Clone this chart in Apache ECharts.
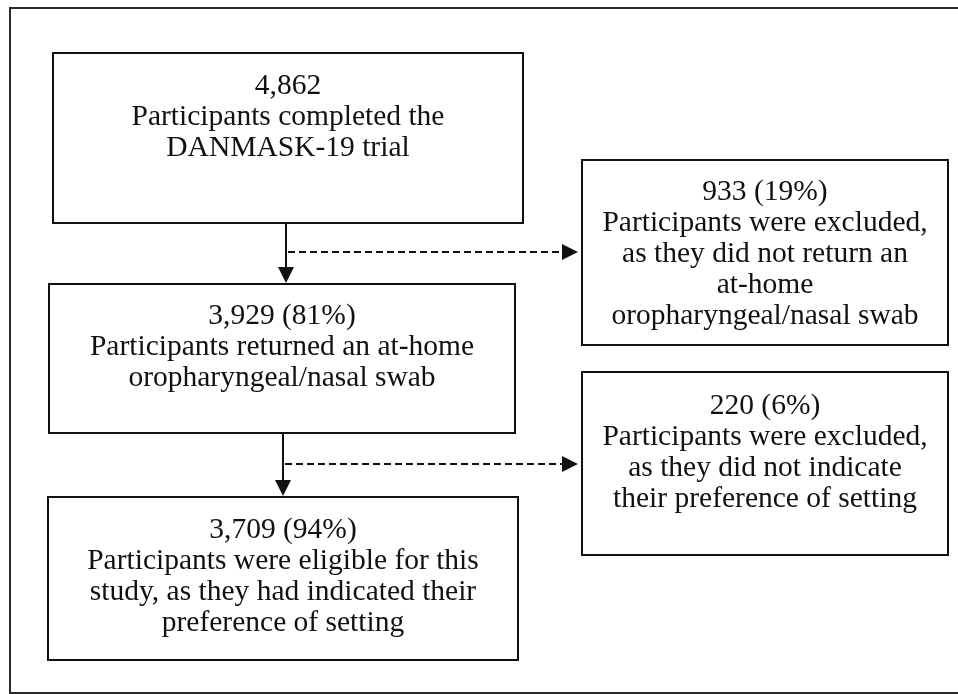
<!DOCTYPE html>
<html>
<head>
<meta charset="utf-8">
<script src="https://cdn.jsdelivr.net/npm/echarts@6/dist/echarts.min.js"></script>
<style>html,body{margin:0;padding:0;background:#fff}#c{width:958px;height:694px}</style>
</head>
<body>
<div id="c"></div>
<script>
// ---- Data (flowchart texts) ----
const boxTrial = ["4,862", "Participants completed the", "DANMASK-19 trial"];
const boxReturned = ["3,929 (81%)", "Participants returned an at-home", "oropharyngeal/nasal swab"];
const boxEligible = ["3,709 (94%)", "Participants were eligible for this", "study, as they had indicated their", "preference of setting"];
const boxExcluded1 = ["933 (19%)", "Participants were excluded,", "as they did not return an", "at-home", "oropharyngeal/nasal swab"];
const boxExcluded2 = ["220 (6%)", "Participants were excluded,", "as they did not indicate", "their preference of setting"];

// ---- Layout ----
const FONT = "'Liberation Serif', 'DejaVu Serif', serif";
const FS = 29.5, LH = 31;
const layout = [
  {lines: boxTrial,     x: 53,  y: 53,  w: 470, h: 170, ty: 18},
  {lines: boxReturned,  x: 49,  y: 284, w: 466, h: 149, ty: 17},
  {lines: boxEligible,  x: 48,  y: 497, w: 470, h: 163, ty: 18},
  {lines: boxExcluded1, x: 582, y: 160, w: 366, h: 185, ty: 17},
  {lines: boxExcluded2, x: 582, y: 372, w: 366, h: 183, ty: 19}
];

const els = [];
// outer frame
els.push({type: 'rect', shape: {x: 10, y: 8, width: 960, height: 685},
  style: {fill: 'none', stroke: '#2b2b2b', lineWidth: 2}});

layout.forEach(b => {
  els.push({type: 'rect', shape: {x: b.x, y: b.y, width: b.w, height: b.h},
    style: {fill: '#fff', stroke: '#111', lineWidth: 2}});
  els.push({type: 'text', style: {
    text: b.lines.join('\n'), x: b.x + b.w / 2, y: b.y + b.ty,
    align: 'center', verticalAlign: 'top', fontSize: FS, lineHeight: LH,
    fontFamily: FONT, fill: '#111'}});
});

function vArrow(x, y1, y2) {
  els.push({type: 'line', shape: {x1: x, y1: y1, x2: x, y2: y2 - 14},
    style: {stroke: '#111', lineWidth: 2}});
  els.push({type: 'polygon', shape: {points: [[x - 8, y2 - 16], [x + 8, y2 - 16], [x, y2]]},
    style: {fill: '#111'}});
}
function hDash(x1, x2, y) {
  els.push({type: 'line', shape: {x1: x1, y1: y, x2: x2 - 14, y2: y},
    style: {stroke: '#111', lineWidth: 2, lineDash: [7, 4]}});
  els.push({type: 'polygon', shape: {points: [[x2 - 16, y - 8], [x2 - 16, y + 8], [x2, y]]},
    style: {fill: '#111'}});
}
vArrow(286, 223, 283);
hDash(288, 578, 252);
vArrow(283, 433, 496);
hDash(285, 578, 464);

const chart = echarts.init(document.getElementById('c'), null, {renderer: 'canvas'});
chart.setOption({
  backgroundColor: '#fff',
  animation: false,
  graphic: {elements: els}
});
</script>
</body>
</html>
